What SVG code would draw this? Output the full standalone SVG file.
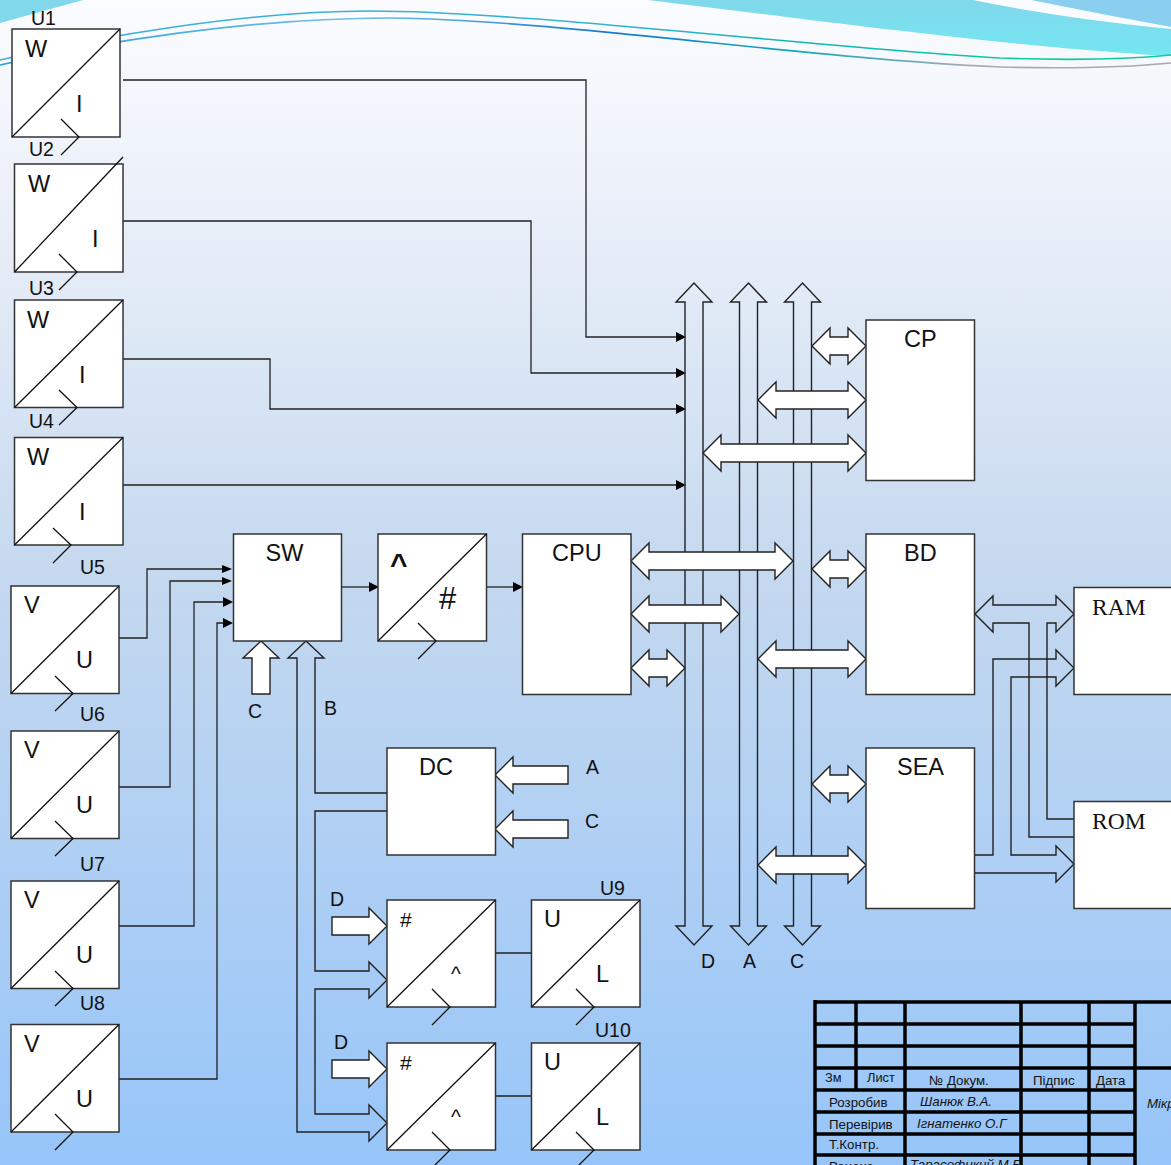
<svg xmlns="http://www.w3.org/2000/svg" width="1171" height="1165" viewBox="0 0 1171 1165">
<style>
.b{fill:#fff;stroke:#333;stroke-width:1.5}
.a{fill:#fff;stroke:#222;stroke-width:1.4;stroke-linejoin:miter}
.d{fill:none;stroke:#111;stroke-width:1.3}
.l{fill:none;stroke:#222;stroke-width:1.3}
.o{fill:none;stroke:#222;stroke-width:1.4}
text{font-family:"Liberation Sans",Arial,sans-serif;fill:#111}
.t{font-size:23.500px}
.m{font-size:19.500px}
.h{font-size:21px}
.s{font-size:13.300px}
.sm{font-size:12.800px}
.i{font-style:italic;font-size:13.300px}
.r{font-family:"Liberation Serif","Times New Roman",serif;font-size:23.500px}
.g{stroke:#000;stroke-width:3.500;fill:none}
</style>
<defs>
<linearGradient id="bg" x1="0" y1="0" x2="0" y2="1">
<stop offset="0" stop-color="#fbfcff"/><stop offset="0.2" stop-color="#e8eef8"/><stop offset="0.5" stop-color="#c4d8ef"/><stop offset="1" stop-color="#97c5f9"/>
</linearGradient>
<linearGradient id="w1" gradientUnits="userSpaceOnUse" x1="0" y1="0" x2="1171" y2="0">
<stop offset="0" stop-color="#3fb0dc"/><stop offset="0.5" stop-color="#35b2d0"/><stop offset="0.7" stop-color="#0db6b4"/><stop offset="0.85" stop-color="#0ccb98"/><stop offset="1" stop-color="#0ccb98"/>
</linearGradient>
<linearGradient id="w2" gradientUnits="userSpaceOnUse" x1="0" y1="0" x2="1171" y2="0">
<stop offset="0" stop-color="#2a9bd8"/><stop offset="0.3" stop-color="#70bfe8"/><stop offset="0.52" stop-color="#1a78d0"/><stop offset="0.68" stop-color="#10a8b8"/><stop offset="0.83" stop-color="#a8acb0"/><stop offset="1" stop-color="#a8a8a8"/>
</linearGradient>
<linearGradient id="tl" x1="0" y1="0" x2="0" y2="1"><stop offset="0" stop-color="#80d8ea"/><stop offset="1" stop-color="#74e6f2"/></linearGradient>
</defs>
<rect width="1171" height="1165" fill="url(#bg)"/>
<g id="decor">
<path d="M0 0H83L0 23Z" fill="#80d8ea"/>
<path d="M648 0H973Q1060 18 1171 29V56C1100 52 1000 44 771 15Z" fill="url(#tl)"/>
<path d="M1031 0H1171V27Q1100 14 1031 0Z" fill="#8bcff0"/>
<path d="M0 60C100 36 250 11 370 11C520 11 800 46 1000 58C1080 61 1130 59 1171 55" fill="none" stroke="url(#w1)" stroke-width="1.6"/>
<path d="M0 65C100 42 250 18 390 18C560 20 800 58 1000 67C1080 69 1130 67 1171 63" fill="none" stroke="url(#w2)" stroke-width="1.6"/>
</g>
<g id="connectors">
<path class="l" d="M123 80H586V337H677"/><path d="M676 332L686 337L676 342Z" fill="#000"/>
<path class="l" d="M123 221H531V373H677"/><path d="M676 368L686 373L676 378Z" fill="#000"/>
<path class="l" d="M123 359H270V409H677"/><path d="M676 404L686 409L676 414Z" fill="#000"/>
<path class="l" d="M123 485H677"/><path d="M676 480L686 485L676 490Z" fill="#000"/>
<path class="l" d="M119 638H147V569H224"/><path d="M222 565L232 569L222 573Z" fill="#000"/>
<path class="l" d="M119 787H170V581H224"/><path d="M222 577L232 581L222 585Z" fill="#000"/>
<path class="l" d="M119 926H194V602H225"/><path d="M223 597L233 602L223 607Z" fill="#000"/>
<path class="l" d="M119 1079H217V623H225"/><path d="M223 618L233 623L223 628Z" fill="#000"/>
<path class="l" d="M342 587H370"/><path d="M369 582L379 587L369 592Z" fill="#000"/>
<path class="l" d="M487 587H514"/><path d="M513 582L523 587L513 592Z" fill="#000"/>
<path class="l" d="M495 953H531M495 1096H531"/>
</g>
<g id="buses">
<path class="o" d="M685 926V302H676L694 283L712 302H703V926H712L694 945L676 926Z"/>
<path class="o" d="M739.500 926V302H730.500L748.500 283L766.500 302H757.500V926H766.500L748.500 945L730.500 926Z"/>
<path class="o" d="M793.500 926V302H784.500L802.500 283L820.500 302H811.500V926H820.500L802.500 945L784.500 926Z"/>
</g>
<g id="bus-arrows">
<path class="a" d="M812 346L830 328V337H848V328L866 346L848 364V355H830V364Z"/>
<path class="a" d="M758 400L776 382V391H848V382L866 400L848 418V409H776V418Z"/>
<path class="a" d="M703 453L721 435V444H848V435L866 453L848 471V462H721V471Z"/>
<path class="a" d="M812 569L830 551V560H848V551L866 569L848 587V578H830V587Z"/>
<path class="a" d="M758 659L776 641V650H848V641L866 659L848 677V668H776V677Z"/>
<path class="a" d="M812 784L830 766V775H848V766L866 784L848 802V793H830V802Z"/>
<path class="a" d="M758 865L776 847V856H848V847L866 865L848 883V874H776V883Z"/>
<path class="a" d="M631 561L649 543V552H775V543L793 561L775 579V570H649V579Z"/>
<path class="a" d="M631 614L649 596V605H721V596L739 614L721 632V623H649V632Z"/>
<path class="a" d="M631 668L649 650V659H667V650L685 668L667 686V677H649V686Z"/>
<path class="a" d="M261 641L279 658H270V694H252V658H243Z"/>
<path class="a" d="M495 775L513 757V766H568V784H513V793Z"/>
<path class="a" d="M495 829L513 811V820H568V838H513V847Z"/>
<path class="a" d="M387 926L369 908V917H332V935H369V944Z"/>
<path class="a" d="M387 1069L369 1051V1060H332V1078H369V1087Z"/>
<path class="o" d="M387 793H315V658H324L306 641L288 658H297V1132H369V1141L387 1123L369 1105V1114H315V989H369V998L387 980L369 962V971H315V811H387"/>
<path class="o" d="M1074 819H1047V623H1056V632L1074 614L1056 596V605H993V596L975 614L993 632V623H1029V837H1074"/>
<path class="o" d="M975 855H993V659H1056V650L1074 668L1056 686V677H1011V855H1056V846L1074 864L1056 882V873H975"/>
</g>
<g id="U1"><rect class="b" x="12" y="29" width="108" height="108"/><path class="d" d="M12 137L120 29M61 119L79 137L61 155"/><text class="m" x="31" y="25">U1</text><text class="t" x="25" y="57">W</text><text class="t" x="76" y="112">I</text></g>
<g id="U2"><rect class="b" x="14.500" y="164" width="108.500" height="108"/><path class="d" d="M14.500 272L123 157M59 254L77 272L59 290"/><text class="m" x="29" y="156">U2</text><text class="t" x="28" y="192">W</text><text class="t" x="92" y="247">I</text></g>
<g id="U3"><rect class="b" x="14.500" y="300" width="108.500" height="107.500"/><path class="d" d="M14.500 407.500L123 300M59 390L77 407.500L59 425"/><text class="m" x="29" y="295">U3</text><text class="t" x="27" y="328">W</text><text class="t" x="79" y="383">I</text></g>
<g id="U4"><rect class="b" x="14.500" y="437.500" width="108.500" height="107.500"/><path class="d" d="M14.500 545L123 437.500M53 528L71 545L53 563"/><text class="m" x="29" y="428">U4</text><text class="t" x="27" y="465">W</text><text class="t" x="79" y="520">I</text></g>
<g id="U5"><rect class="b" x="11" y="586" width="108" height="107.500"/><path class="d" d="M11 693.500L119 586M55 676L73 693.500L55 711"/><text class="m" x="80" y="574">U5</text><text class="t" x="24" y="613">V</text><text class="t" x="76" y="668">U</text></g>
<g id="U6"><rect class="b" x="11" y="731" width="108" height="107.500"/><path class="d" d="M11 838.500L119 731M55 821L73 838.500L55 856"/><text class="m" x="80" y="721">U6</text><text class="t" x="24" y="758">V</text><text class="t" x="76" y="813">U</text></g>
<g id="U7"><rect class="b" x="11" y="881" width="108" height="107.500"/><path class="d" d="M11 988.500L119 881M55 971L73 988.500L55 1006"/><text class="m" x="80" y="871">U7</text><text class="t" x="24" y="908">V</text><text class="t" x="76" y="963">U</text></g>
<g id="U8"><rect class="b" x="11" y="1024.500" width="108" height="107.500"/><path class="d" d="M11 1132L119 1024.500M55 1114L73 1132L55 1150"/><text class="m" x="80" y="1010">U8</text><text class="t" x="24" y="1052">V</text><text class="t" x="76" y="1107">U</text></g>
<g id="SW"><rect class="b" x="233.500" y="534" width="108" height="107"/><text class="t" x="265.500" y="561">SW</text></g>
<g id="AD"><rect class="b" x="378" y="534" width="108.500" height="107"/><path class="d" d="M378 641L486.500 534M418 623L436 641L418 659"/><text x="390" y="574" style="font-size:30px;font-weight:bold">^</text><text x="439" y="609" style="font-size:31px">#</text></g>
<g id="CPU"><rect class="b" x="522.500" y="534" width="108.500" height="160.500"/><text class="t" x="552" y="561">CPU</text></g>
<g id="CP"><rect class="b" x="866" y="320" width="108.500" height="160.500"/><text class="t" x="904" y="347">CP</text></g>
<g id="BD"><rect class="b" x="866" y="534" width="108.500" height="160.500"/><text class="t" x="904" y="561">BD</text></g>
<g id="SEA"><rect class="b" x="866" y="748" width="108.500" height="160.500"/><text class="t" x="897" y="775">SEA</text></g>
<g id="RAM"><rect class="b" x="1074" y="587.500" width="110" height="107"/><text class="r" x="1092" y="615">RAM</text></g>
<g id="ROM"><rect class="b" x="1074" y="801.500" width="110" height="107"/><text class="r" x="1092" y="829">ROM</text></g>
<g id="DC"><rect class="b" x="387" y="748" width="108.500" height="107"/><text class="t" x="419" y="775">DC</text></g>
<g id="DA1"><rect class="b" x="387" y="900" width="108.500" height="107"/><path class="d" d="M387 1007L495.500 900M432 989L450 1007L432 1025"/><text class="h" x="400" y="926.500">#</text><text class="h" x="451" y="981">^</text></g>
<g id="U9"><rect class="b" x="531.500" y="900" width="108.500" height="107"/><path class="d" d="M531.500 1007L640 900M576 989L594 1007L576 1025"/><text class="m" x="600" y="895">U9</text><text class="t" x="544" y="927">U</text><text class="t" x="596" y="982">L</text></g>
<g id="DA2"><rect class="b" x="387" y="1043" width="108.500" height="107"/><path class="d" d="M387 1150L495.500 1043M432 1132L450 1150L432 1168"/><text class="h" x="400" y="1069.500">#</text><text class="h" x="451" y="1124">^</text></g>
<g id="U10"><rect class="b" x="531.500" y="1043" width="108.500" height="107"/><path class="d" d="M531.500 1150L640 1043M576 1132L594 1150L576 1168"/><text class="m" x="595" y="1037">U10</text><text class="t" x="544" y="1070">U</text><text class="t" x="596" y="1125">L</text></g>
<g id="labels">
<text class="m" x="248" y="718">C</text><text class="m" x="324" y="715">B</text>
<text class="m" x="586" y="774">A</text><text class="m" x="585" y="828">C</text>
<text class="m" x="330" y="906">D</text><text class="m" x="334" y="1049">D</text>
<text class="m" x="701" y="968">D</text><text class="m" x="743" y="968">A</text><text class="m" x="790" y="968">C</text>
</g>
<g id="title-block">
<path class="g" d="M815 1002H1171M815 1024H1135M815 1046H1135M815 1068H1171M815 1090H1135M815 1112H1135M815 1134H1135M815 1155H1135M815 1000V1165M856 1002V1090M905 1002V1165M1021 1002V1165M1089 1002V1165M1135 1002V1165"/>
<text class="sm" x="825" y="1082">Зм</text><text class="sm" x="867" y="1082">Лист</text><text class="s" x="929" y="1085">№ Докум.</text><text class="s" x="1033" y="1085">Підпис</text><text class="s" x="1096" y="1085">Дата</text>
<text class="s" x="829" y="1107">Розробив</text><text class="i" x="920" y="1106">Шанюк В.А.</text><text class="i" x="917" y="1128">Ігнатенко О.Г</text><text class="s" x="829" y="1129">Перевірив</text><text class="s" x="829" y="1149">Т.Контр.</text>
<text class="s" x="829" y="1171">Реценз.</text><text class="i" x="910" y="1169">Тарасофцкий М.Б</text><text class="i" x="1147" y="1108">Мікр</text>
</g>
</svg>
